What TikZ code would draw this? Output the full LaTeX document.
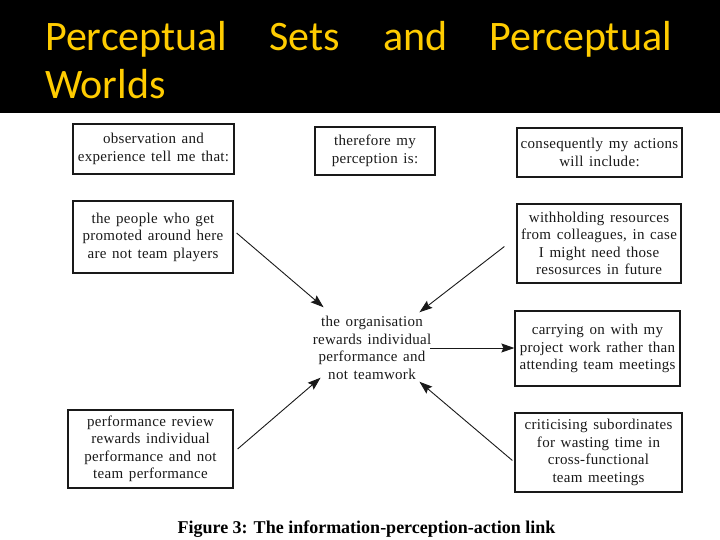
\documentclass[tikz,border=0pt]{standalone}
\usepackage{fontspec}
\setmainfont{Liberation Serif}
\newfontfamily\slidefont{Carlito}
\newfontfamily\scanfont{Liberation Serif}[LetterSpace=2,WordSpace=1.4]
\usetikzlibrary{arrows.meta}
\definecolor{SlideBlack}{RGB}{0,0,0}
\definecolor{SlideGold}{RGB}{255,204,0}
\definecolor{ScanInk}{RGB}{25,25,25}

\begin{document}
\begin{tikzpicture}[x=1pt,y=-1pt,
  heading/.style={anchor=base west,inner sep=0pt,text=SlideGold,font=\slidefont\fontsize{42}{48}\selectfont},
  box/.style={draw=ScanInk,line width=1.2pt,align=center,inner sep=0pt,text=ScanInk,
    font=\scanfont\fontsize{15}{17.5}\selectfont},
  link/.style={-{Stealth[length=13pt,width=9pt,inset=2pt]},line width=0.9pt,ScanInk}]
  \useasboundingbox (0,0) rectangle (720,540);

  % Title band
  \fill[SlideBlack] (0,0) rectangle (720,113);
  \foreach \x/\w [count=\i] in {45/Perceptual,269/Sets,383/and}
    \node[heading] (word\i) at (\x,51) {\w};
  \node[heading,anchor=base east] (word4) at (672,51) {Perceptual};
  \node[heading] (word5) at (45,99) {Worlds};

  % Column headers
  \node[box,minimum width=161pt,minimum height=50pt] (observe) at (153.5,149) {observation and\\experience tell me that:};
  \node[box,minimum width=120pt,minimum height=48pt] (therefore) at (375,151) {therefore my\\perception is:};
  \node[box,minimum width=165pt,minimum height=49pt] (conseq) at (599.5,152.5) {consequently my actions\\will include:};

  % Information
  \node[box,minimum width=160pt,minimum height=72pt] (people) at (153,237) {the people who get\\promoted around here\\are not team players};
  \node[box,minimum width=165pt,minimum height=78pt] (review) at (150.5,449) {performance review\\rewards individual\\performance and not\\team performance};

  % Perception
  \node[align=center,inner sep=2pt,text=ScanInk,
    font=\scanfont\fontsize{15}{17.5}\selectfont] (org) at (372,348)
    {the organisation\\rewards individual\\performance and\\not teamwork};

  % Actions
  \node[box,minimum width=164pt,minimum height=79pt] (withhold) at (599,243.5) {withholding resources\\from colleagues, in case\\I might need those\\resosurces in future};
  \node[box,minimum width=165pt,minimum height=75pt] (carry) at (597.5,348.5) {carrying on with my\\project work rather than\\attending team meetings};
  \node[box,minimum width=167pt,minimum height=79pt] (critic) at (598.5,452.5) {criticising subordinates\\for wasting time in\\cross-functional\\team meetings};

  % Links
  \draw[link] ([shift={(3,-4)}]people.east) -- ([shift={(13,-7)}]org.north west);
  \draw[link] ([shift={(4,0)}]review.east) -- ([shift={(10,-4)}]org.south west);
  \draw[link] ([shift={(-12,3)}]withhold.west) -- ([shift={(-14,-2)}]org.north east);
  \draw[link] ([shift={(-2,8)}]critic.west) -- ([shift={(-14,0)}]org.south east);
  \draw[link] ([xshift=-3pt]org.east) -- (org.east -| carry.west);

  % Caption
  \node[anchor=base,inner sep=0pt,font=\bfseries\fontsize{18}{20}\selectfont] (caption) at (366.5,533)
    {Figure 3: The information-perception-action link};
\end{tikzpicture}
\end{document}
